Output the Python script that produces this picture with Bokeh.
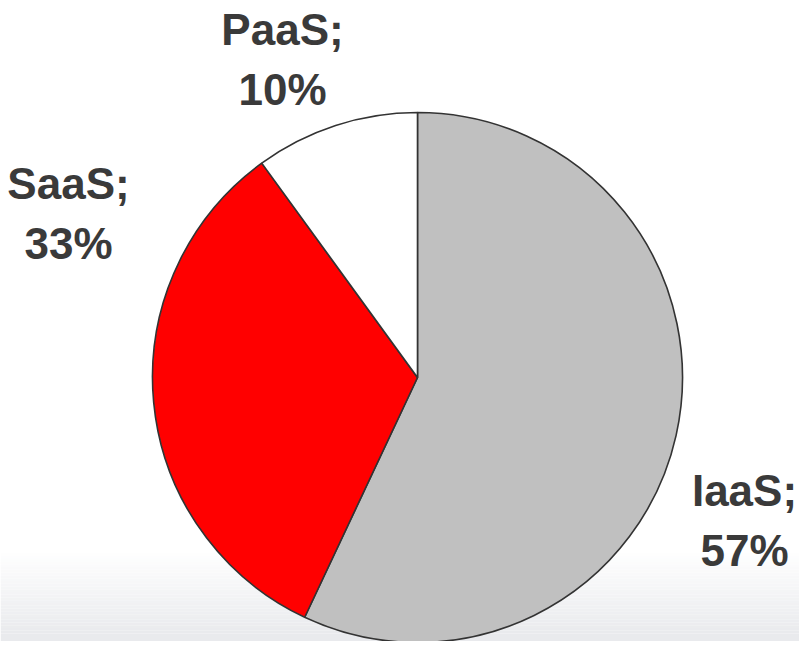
import numpy as np
from bokeh.plotting import figure
from bokeh.models import BoxAnnotation, ColumnDataSource
from bokeh.core.properties import value
from bokeh.embed import file_html
from bokeh.resources import INLINE

# ---- data ----
labels = ["IaaS", "SaaS", "PaaS"]
shares = [57, 33, 10]
colors = ["#c0c0c0", "#ff0000", "#ffffff"]

# ---- layout (styling) ----
W, H = 799, 641            # figure size in pixels (data units = pixels)
cx, cy, R = 417, 264, 265
label_x = [744, 68, 282]
label_y = [121, 428, 582]

p = figure(width=W, height=H, x_range=(0, W), y_range=(0, H),
           output_backend="svg", toolbar_location=None, min_border=0)
p.axis.visible = False
p.grid.visible = False
p.outline_line_color = None
p.background_fill_color = "white"
p.border_fill_color = "white"

# bottom gradient background
top_g, bot_g = 91, 8
n = 30
edges = np.linspace(top_g, bot_g, n + 1)
c0 = np.array([255, 255, 255])
c1 = np.array([233, 234, 237])
for i in range(n):
    t = (i + 0.5) / n
    c = (c0 + (c1 - c0) * t).round().astype(int)
    p.add_layout(BoxAnnotation(top=edges[i], bottom=edges[i + 1], fill_color="#%02x%02x%02x" % tuple(c),
                               fill_alpha=1, line_color=None, level="underlay"))
p.add_layout(BoxAnnotation(top=bot_g, bottom=-5, fill_color="#e9eaed", fill_alpha=1,
                           line_color=None, level="underlay"))

# wedges: start at 12 o'clock, go clockwise
fr = np.array(shares) / sum(shares)
cum = np.concatenate([[0], np.cumsum(fr)])
start_deg = 90 - cum[1:] * 360
end_deg = 90 - cum[:-1] * 360
src = ColumnDataSource(dict(
    x=[cx] * len(labels), y=[cy] * len(labels),
    start=np.radians(start_deg), end=np.radians(end_deg),
    color=colors,
    text=[f"{l};\n{s}%" for l, s in zip(labels, shares)],
    lx=label_x, ly=label_y,
))
p.wedge(x="x", y="y", radius=R, start_angle="start", end_angle="end",
        fill_color="color", line_color="#333333", line_width=1.6, source=src)

p.text(x="lx", y="ly", text="text", source=src,
       text_font=value("Liberation Sans"), text_font_style="bold",
       text_font_size="44px", text_color="#3a3a3a",
       text_align="center", text_baseline="middle", text_line_height=1.24)

open("out.html", "w").write(file_html(p, INLINE))
